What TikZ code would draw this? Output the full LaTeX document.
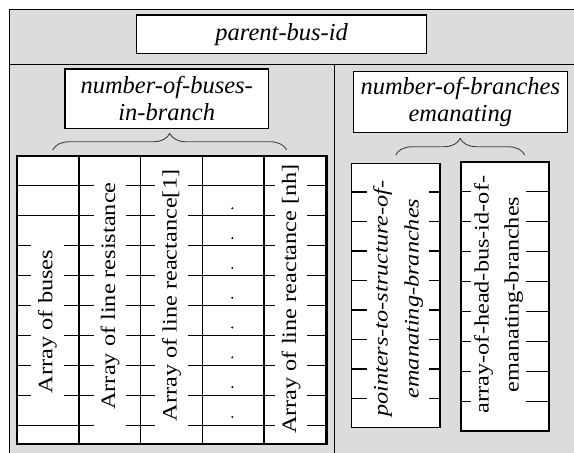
\documentclass[tikz,border=0pt]{standalone}
\usepackage{fontspec}
\setmainfont{Liberation Serif}
\newfontfamily\rotfont[FakeStretch=1.185]{Liberation Serif}
\usetikzlibrary{decorations.pathreplacing}
\definecolor{panelgray}{RGB}{220,220,220}
\tikzset{
  frameline/.style={line width=1.1pt, draw=black},
  labelbox/.style={draw=black, line width=1.2pt, fill=white, inner sep=0pt,
    align=center, font=\fontsize{24.5}{27.5}\selectfont\itshape},
  rowline/.style={line width=1.1pt},
  coltext/.style={rotate=90, fill=white, inner xsep=20pt, inner ysep=7pt,
    font=\rotfont\fontsize{20.5}{24}\selectfont},
  pairtext/.style={rotate=90, fill=white, align=center, inner xsep=6pt},
  bracket/.style={decorate, decoration={brace, amplitude=16.5pt},
    line width=0.9pt, draw=black!75},
}
\begin{document}
\begin{tikzpicture}[x=1pt, y=-1pt]
\useasboundingbox (0,0) rectangle (574,453);
\clip (0,0) rectangle (574,453);

% outer frame and its panels
\draw[frameline, fill=panelgray] (9.3,9.3) rectangle (600,480);
\draw[frameline] (9.3,64.3) -- (600,64.3);
\draw[frameline] (334.7,64.3) -- (334.7,480);

% header fields
\node[labelbox, minimum width=290pt, minimum height=38.3pt]
  (parent) at (281.7,34.2) {parent-bus-id};
\node[labelbox, minimum width=203.3pt, minimum height=59.3pt]
  (nbuses) at (166.7,98.7) {number-of-buses-\\in-branch};
\node[labelbox, minimum width=214pt, minimum height=61pt]
  (nbranches) at (460.3,102.2) {number-of-branches\\emanating};

% braces under the counts
\coordinate (bl1) at (52.7,150);
\coordinate (br1) at (286.7,150);
\coordinate (bl2) at (395.7,155);
\coordinate (br2) at (524.7,155);
\draw[bracket] (bl1) -- (br1);
\draw[bracket] (bl2) -- (br2);

% table of per-branch arrays
\fill[white] (17,156) rectangle (326.7,444);
\begin{scope}
  \clip (17,156) rectangle (326.7,444);
  \foreach \k in {0,...,8}
    \draw[rowline] (17,185.5+30.05*\k) -- (326.7,185.5+30.05*\k);
  \node[coltext] (buses) at (47.4,321.5) {Array of buses};
  \node[coltext] (resist) at (110,296) {Array of line resistance};
  \node[coltext] (react1) at (171.7,295.5) {Array of line reactance[1]};
  \node[coltext] (reactnh) at (291,299) {Array of line reactance [nh]};
  \foreach \k in {0,...,7}
    \fill (232.3,208.3+29.8*\k) circle (1.1pt);
\end{scope}
\foreach \x in {79,140.3,202.3,264}
  \draw[rowline] (\x,156) -- (\x,444);
\draw[line width=2.6pt] (17,156) rectangle (326.7,444);

% array of pointers to emanating branches
\fill[white] (351.7,163.3) rectangle (440,427.3);
\begin{scope}
  \clip (351.7,163.3) rectangle (440,427.3);
  \foreach \k in {0,...,7}
    \draw[rowline] (351.7,192+29.5*\k) -- (440,192+29.5*\k);
  \node[pairtext, inner ysep=6pt,
    font=\rotfont\fontsize{20.5}{31}\selectfont\itshape]
    (pointers) at (398,298.5) {pointers-to-structure-of-\\emanating-branches};
\end{scope}
\draw[line width=1.2pt] (351.7,163.3) rectangle (440,427.3);

% array of head bus ids of emanating branches
\fill[white] (461,162.3) rectangle (549,431);
\begin{scope}
  \clip (461,162.3) rectangle (549,431);
  \foreach \k in {0,...,7}
    \draw[rowline] (461,191.5+30*\k) -- (549,191.5+30*\k);
  \node[pairtext, inner ysep=3pt,
    font=\rotfont\fontsize{20.5}{30}\selectfont]
    (headids) at (498.5,294.5) {array-of-head-bus-id-of-\\emanating-branches};
\end{scope}
\draw[line width=2pt] (461,162.3) rectangle (549,431);
\end{tikzpicture}
\end{document}
